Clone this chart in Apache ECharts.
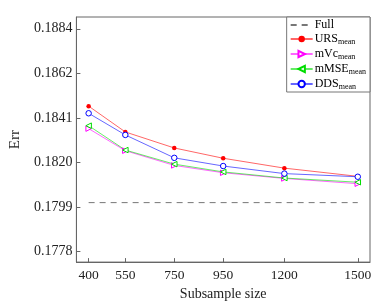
<!DOCTYPE html>
<html><head><meta charset="utf-8">
<script src="https://cdn.jsdelivr.net/npm/echarts@6/dist/echarts.min.js"></script>
<style>html,body{margin:0;padding:0;background:#fff}#c{width:374px;height:306px}</style>
</head><body><div id="c"></div>
<script>
var xValues = [400, 550, 750, 950, 1200, 1500];
var xTicks = [400, 550, 750, 950, 1200, 1500];
var yTicks = [0.17776, 0.17988, 0.182, 0.18412, 0.18624, 0.18836];
var fullValue = 0.18009;
var ursMean = [0.18468, 0.18345, 0.18269, 0.18220, 0.18173, 0.18134];
var mvcMean = [0.18361, 0.18256, 0.18186, 0.18151, 0.18124, 0.18099];
var mmseMean = [0.18375, 0.18259, 0.18192, 0.18155, 0.18126, 0.18106];
var ddsMean = [0.18434, 0.18331, 0.18222, 0.18183, 0.18147, 0.18132];

function pairs(ys){ return xValues.map(function(x,i){ return [x, ys[i]]; }); }
var FONT = '"Liberation Serif", "DejaVu Serif", serif';
var chart = echarts.init(document.getElementById('c'), null, {renderer:'canvas'});
function mk(name, ys, color, symbol, rot, filled){
  return {
    name: name, type: 'line', data: pairs(ys),
    symbol: symbol, symbolSize: filled ? 4.5 : 5.5, symbolRotate: rot,
    showSymbol: true,
    lineStyle: {color: color, width: 1, opacity: 0.6},
    itemStyle: filled ? {color: color} : {color: '#fff', borderColor: color, borderWidth: 1},
    emphasis: {disabled: true}, animation: false, z: 3
  };
}
chart.setOption({
  animation: false,
  grid: {left: 57, right: 4, top: 17, bottom: 40, show: true, borderColor: '#666', borderWidth: 1},
  legend: {
    right: 4, top: 17, orient: 'vertical', itemGap: 2, itemWidth: 22, itemHeight: 8,
    backgroundColor: '#fff', borderColor: '#777', borderWidth: 1, borderRadius: 0,
    padding: [2, 4, 1, 3],
    data: [{name: 'Full', itemStyle: {opacity: 0}}, 'URS', 'mVc', 'mMSE', 'DDS'],
    formatter: function(n){ return n === 'Full' ? '{a|Full}' : '{a|' + n + '}{b|mean}'; },
    textStyle: {
      fontFamily: FONT, color: '#000', padding: [0,0,0,-3],
      rich: {
        a: {fontFamily: FONT, fontSize: 12, color: '#000', verticalAlign: 'bottom', lineHeight: 12},
        b: {fontFamily: FONT, fontSize: 8, color: '#000', verticalAlign: 'bottom', lineHeight: 9, padding: [0,0,-1,0]}
      }
    }
  },
  xAxis: {
    type: 'value', min: 350, max: 1550,
    name: 'Subsample size', nameLocation: 'middle', nameGap: 21,
    nameTextStyle: {fontFamily: FONT, fontSize: 14, color: '#222'},
    axisLine: {show: true, lineStyle: {color: '#666'}},
    axisTick: {show: true, inside: true, length: 4, customValues: xTicks, lineStyle: {color: '#666'}},
    axisLabel: {customValues: xTicks, fontFamily: FONT, fontSize: 13.5, color: '#222', margin: 6,
      formatter: function(v){ return String(v); }},
    splitLine: {show: false}
  },
  yAxis: {
    type: 'value', min: 0.17726, max: 0.18892,
    name: 'Err', nameLocation: 'middle', nameGap: 39, nameRotate: 90,
    nameTextStyle: {fontFamily: FONT, fontSize: 15, color: '#222'},
    axisLine: {show: true, lineStyle: {color: '#666'}},
    axisTick: {show: true, inside: true, length: 4, customValues: yTicks, lineStyle: {color: '#666'}},
    axisLabel: {customValues: yTicks, fontFamily: FONT, fontSize: 14, color: '#222', margin: 4,
      formatter: function(v){ return v.toFixed(4); }},
    splitLine: {show: false}
  },
  series: [
    {name: 'Full', type: 'line', data: [[xValues[0], fullValue], [xValues[xValues.length-1], fullValue]],
     symbol: 'none', lineStyle: {color: '#777', width: 1, type: [6, 5]}, itemStyle: {color: '#777'},
     emphasis: {disabled: true}, z: 2},
    mk('URS', ursMean, '#ff0000', 'circle', 0, true),
    mk('mVc', mvcMean, '#ff00ff', 'triangle', -90, false),
    mk('mMSE', mmseMean, '#00dd00', 'triangle', 90, false),
    mk('DDS', ddsMean, '#0000ff', 'circle', 0, false)
  ]
});
</script></body></html>
